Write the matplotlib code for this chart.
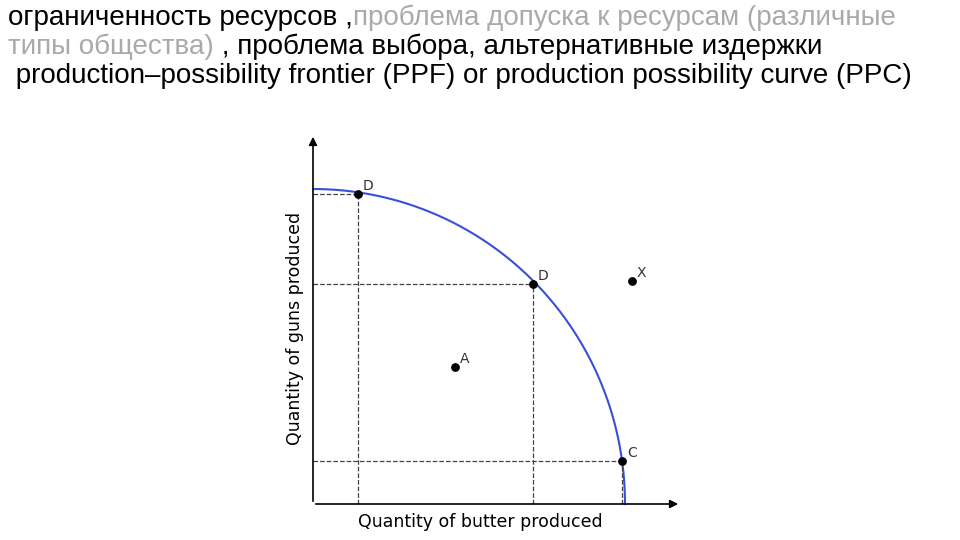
import numpy as np
import matplotlib
matplotlib.use("Agg")
import matplotlib.pyplot as plt

# data (in chart units relative to origin)
point_labels = ["D", "D", "X", "A", "C"]
point_x = [45, 220, 319, 142, 309]
point_y = [310, 220, 223, 137, 43]
dashed_idx = [0, 1, 4]
frontier_x_max = 312
frontier_y_max = 315

fig = plt.figure(figsize=(9.6, 5.4), dpi=100)
ax = fig.add_axes([0, 0, 1, 1])
ax.set_xlim(-313, 647)
ax.set_ylim(-36, 504)
ax.axis("off")

t = np.linspace(0, np.pi / 2, 300)
ax.plot(frontier_x_max * np.cos(t), frontier_y_max * np.sin(t), color="#3a4fd8", lw=1.5)

ax.annotate("", xy=(0, 370), xytext=(0, 0),
            arrowprops=dict(arrowstyle="-|>", color="black", lw=1.2, mutation_scale=12))
ax.annotate("", xy=(368, 0), xytext=(0, 0),
            arrowprops=dict(arrowstyle="-|>", color="black", lw=1.2, mutation_scale=12))

for i in dashed_idx:
    ax.plot([0, point_x[i]], [point_y[i], point_y[i]], ls="--", color="#444", lw=0.9)
    ax.plot([point_x[i], point_x[i]], [0, point_y[i]], ls="--", color="#444", lw=0.9)

ax.scatter(point_x, point_y, s=28, color="black", zorder=5)
for lab, x, y in zip(point_labels, point_x, point_y):
    ax.text(x + 5, y + 4, lab, fontsize=10, color="#333", family="DejaVu Sans")

ax.text(167, -18, "Quantity of butter produced", ha="center", va="center",
        fontsize=12.5, family="DejaVu Sans")
ax.text(-18, 176, "Quantity of guns produced", ha="center", va="center",
        rotation=90, fontsize=12.5, family="DejaVu Sans")

lines = [
    [("ограниченность ресурсов ,", "black"), ("проблема допуска к ресурсам (различные", "#aaaaaa")],
    [("типы общества)", "#aaaaaa"), (" , проблема выбора, альтернативные издержки", "black")],
    [(" production–possibility frontier (PPF) or production possibility curve (PPC)", "black")],
]
fig.canvas.draw()
r = fig.canvas.get_renderer()
y0 = 540 - 25
for li, pieces in enumerate(lines):
    x = 8
    for s, c in pieces:
        tx = fig.text(x / 960, (y0 - li * 29) / 540, s, color=c, fontsize=20,
                      family="Liberation Sans", va="baseline", ha="left")
        bb = tx.get_window_extent(r)
        x += bb.width
fig.savefig("out.png", dpi=100)
